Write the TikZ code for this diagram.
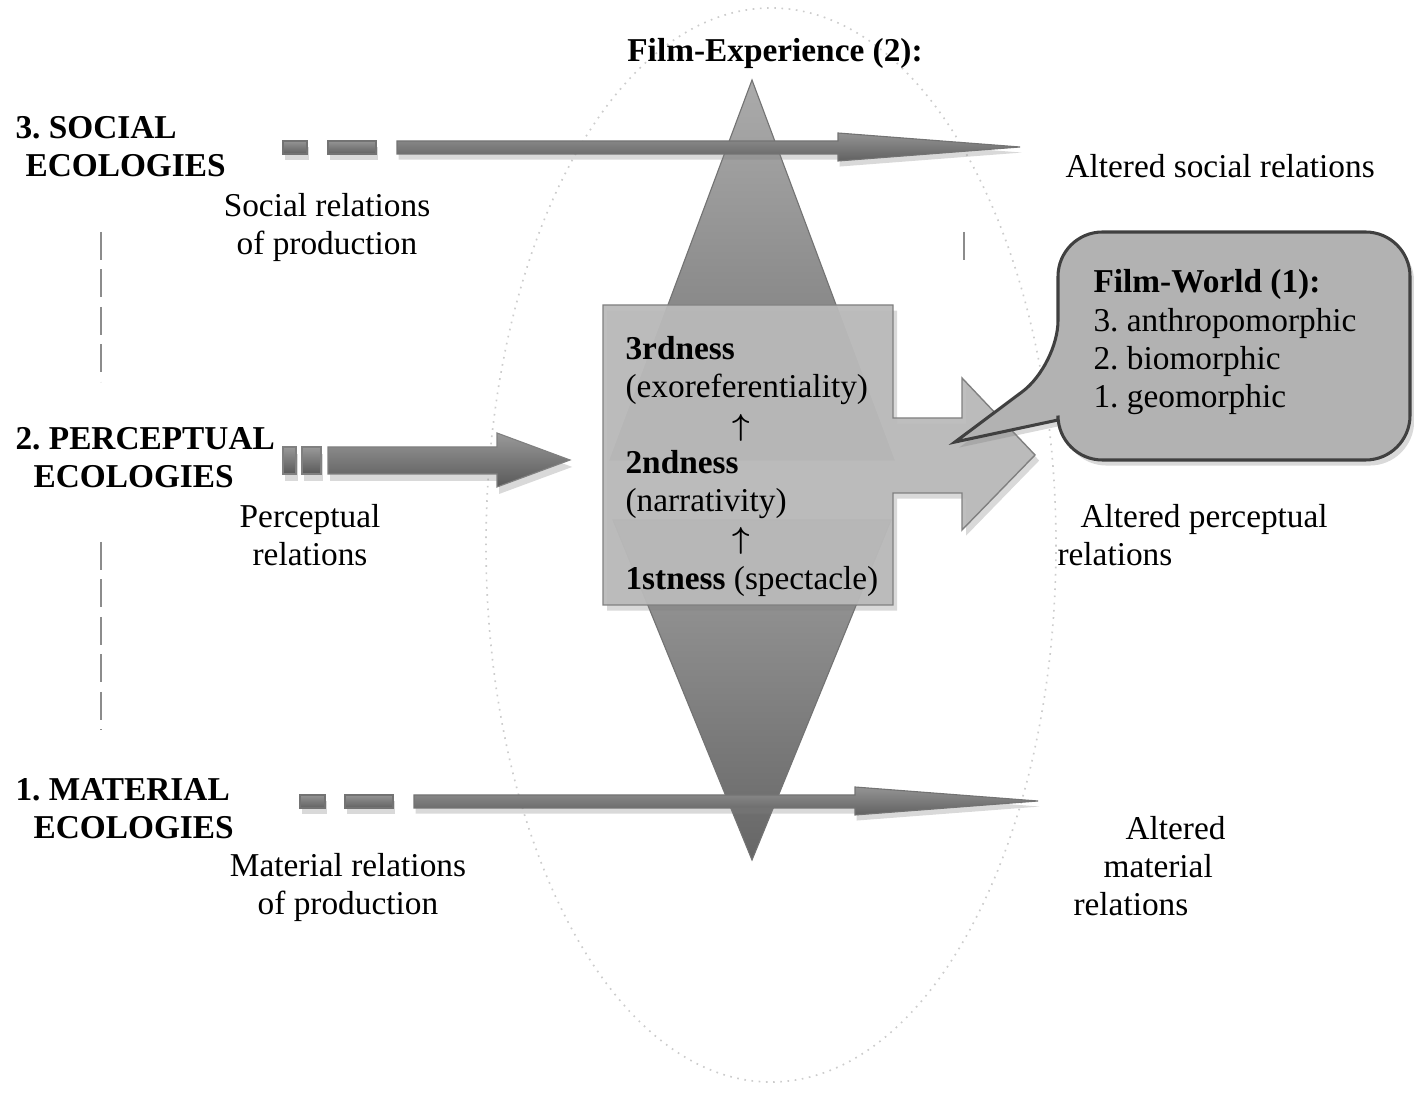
\documentclass[tikz,border=0pt]{standalone}
\usepackage{fontspec}
\setmainfont{Liberation Serif}
\usetikzlibrary{shadows}

\tikzset{
	txt/.style={inner sep=0pt, font=\fontsize{12}{13.8}\selectfont},
	eco/.style={txt, font=\fontsize{12}{13.8}\selectfont\bfseries, align=left},
	ring/.style={draw=black!20, dotted, line width=0.6pt},
	vdash/.style={draw=black!45, line width=0.8pt, dash pattern=on 10pt off 3.5pt},
	thinarrow/.style={draw=black!55, line width=0.4pt, top color=black!42, bottom color=black!62,
		drop shadow={opacity=0.3, shadow xshift=0.6pt, shadow yshift=-2pt}},
	fatarrow/.style={draw=black!50, line width=0.4pt, top color=black!40, bottom color=black!65,
		drop shadow={opacity=0.3, shadow xshift=0.8pt, shadow yshift=-2.5pt}},
	spine/.style={draw=black!55, line width=0.4pt},
	panel/.style={draw=black!50, line width=0.5pt, fill=black!27, fill opacity=0.94,
		drop shadow={opacity=0.3, shadow xshift=1.5pt, shadow yshift=-2pt}},
	bubble/.style={draw=black!75, line width=1.1pt, fill=black!30,
		drop shadow={opacity=0.3, shadow xshift=1.5pt, shadow yshift=-2pt}}
}

\begin{document}
\begin{tikzpicture}[x=0.36pt,y=-0.36pt]
	\useasboundingbox (0,0) rectangle (1414,1105);
	
	%RING
	\draw[ring] (771,545) ellipse [x radius=285, y radius=537];
	
	%SPINE (upper and lower triangle, meeting behind the panel)
	\path[spine, top color=black!33, bottom color=black!55] (752,80) -- (894,460) -- (610,460) -- cycle;
	\path[spine, top color=black!38, bottom color=black!60] (613,520) -- (891,520) -- (752,860) -- cycle;
	
	%SOCIAL ARROW
	\path[thinarrow] (283,141) rectangle (307,154);
	\path[thinarrow] (328,141) rectangle (376,154);
	\path[thinarrow] (397,141) -- (838,141) -- (838,133) -- (1020,147) -- (838,161) -- (838,154) -- (397,154) -- cycle;
	
	%PANEL with block arrow
	\path[panel] (603,305) -- (893,305) -- (893,418) -- (962,418) -- (962,378) -- (1035,455)
		-- (962,530) -- (962,493) -- (893,493) -- (893,605) -- (603,605) -- cycle;
	
	%MATERIAL ARROW
	\path[thinarrow] (300,795) rectangle (325,808);
	\path[thinarrow] (345,795) rectangle (393,808);
	\path[thinarrow] (414,795) -- (855,795) -- (855,787) -- (1038,801) -- (855,815) -- (855,808) -- (414,808) -- cycle;
	
	%PERCEPTUAL ARROW
	\path[fatarrow] (283,447) rectangle (296,474);
	\path[fatarrow] (302,447) rectangle (321,474);
	\path[fatarrow] (328,447) -- (497,447) -- (497,433) -- (570,460) -- (497,487) -- (497,474) -- (328,474) -- cycle;
	
	%SIDE DASHES
	\draw[vdash] (101,232) -- (101,382);
	\draw[vdash] (101,542) -- (101,730);
	\draw[vdash] (964,232) -- (964,262);
	
	%BUBBLE
	\path[bubble] (955,442) -- (1058,420) -- (1058,421) [rounded corners=16pt] -- (1058,460) -- (1410,460)
		-- (1410,232) -- (1058,232) -- (1058,365) [sharp corners] -- cycle;
	
	%LABELS
	\node[txt, font=\fontsize{12}{13.8}\selectfont\bfseries, anchor=base] (exper) at (775,62) {Film-Experience (2):};
	\node[eco, anchor=base west] (social) at (15,177) {3.\ SOCIAL\\\hspace*{3.6pt}ECOLOGIES};
	\node[eco, anchor=base west] (percep) at (15,488) {2.\ PERCEPTUAL\\\hspace*{6.5pt}ECOLOGIES};
	\node[eco, anchor=base west] (mater) at (15,839) {1.\ MATERIAL\\\hspace*{6.5pt}ECOLOGIES};
	
	\node[txt, align=center, anchor=base] (socrel) at (327,255) {Social relations\\of production};
	\node[txt, align=center, anchor=base] (perrel) at (310,566) {Perceptual\\relations};
	\node[txt, align=center, anchor=base] (matrel) at (348,915) {Material relations\\of production};
	
	\node[txt, anchor=base west] (altsoc) at (1065,178) {Altered social relations};
	\node[txt, align=left, anchor=base west] (altper) at (1057,566) {\hspace*{8.3pt}Altered perceptual\\relations};
	\node[txt, align=left, anchor=base west] (altmat) at (1073,916) {\hspace*{18.7pt}Altered\\\hspace*{10.8pt}material\\relations};
	
	%PANEL TEXT
	\node[txt, align=left, anchor=base west] (third) at (625,398) {\textbf{3rdness}\\(exoreferentiality)};
	\node[txt, align=left, anchor=base west] (second) at (625,512) {\textbf{2ndness}\\(narrativity)};
	\node[txt, anchor=base west] (first) at (625,590) {\textbf{1stness} (spectacle)};
	\node[txt, font=\fontsize{11}{12}\selectfont\boldmath] (up2) at (741,428) {$\uparrow$};
	\node[txt, font=\fontsize{11}{12}\selectfont\boldmath] (up1) at (741,541) {$\uparrow$};
	
	%BUBBLE TEXT
	\node[txt, align=left, anchor=base west] (world) at (1093,408) {\textbf{Film-World (1):}\\3.\ anthropomorphic\\2.\ biomorphic\\1.\ geomorphic};
\end{tikzpicture}
\end{document}
